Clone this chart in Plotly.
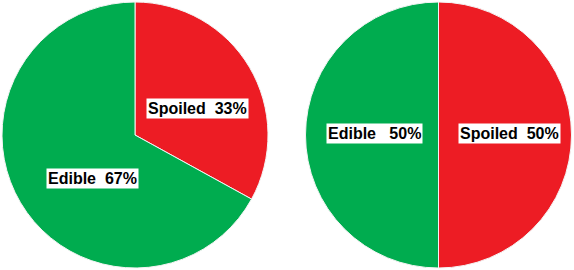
import plotly.graph_objects as go

W, H = 574, 270

# Shares of spoiled vs. edible food in the two scenarios
left_labels = ["Spoiled", "Edible"]
left_values = [33, 67]
right_labels = ["Spoiled", "Edible"]
right_values = [50, 50]

RED = "#ED1C24"
GREEN = "#00AC4F"
colors = [RED, GREEN]

fig = go.Figure()

fig.add_trace(go.Pie(
    labels=left_labels, values=left_values,
    sort=False, direction="clockwise", rotation=0,
    marker=dict(colors=colors, line=dict(color="#f4f4f4", width=1)),
    textinfo="none", hoverinfo="label+percent",
    domain=dict(x=[2 / W, 268 / W], y=[2 / H, 268 / H]),
    showlegend=False,
))
fig.add_trace(go.Pie(
    labels=right_labels, values=right_values,
    sort=False, direction="clockwise", rotation=0,
    marker=dict(colors=colors, line=dict(color="#f4f4f4", width=1)),
    textinfo="none", hoverinfo="label+percent",
    domain=dict(x=[305 / W, 572 / W], y=[2 / H, 268 / H]),
    showlegend=False,
))

# Boxed slice labels (pixel centres within the figure)
label_specs = [
    (left_labels[0], left_values[0], 197, 109, 1),
    (left_labels[1], left_values[1], 92, 178.5, 1),
    (right_labels[1], right_values[1], 374, 134, 2),
    (right_labels[0], right_values[0], 509, 134, 1),
]
for name, val, px, py, gap in label_specs:
    spaces = "&nbsp;" * (gap + 1)
    fig.add_annotation(
        text=f"<b>{name}{spaces}{val}%</b>",
        x=px / W, y=1 - py / H, xref="paper", yref="paper",
        xanchor="center", yanchor="middle", showarrow=False,
        font=dict(family="Liberation Sans, Arial, sans-serif", size=16, color="black"),
        bgcolor="white", borderpad=1,
    )

fig.update_layout(
    width=W, height=H,
    margin=dict(l=0, r=0, t=0, b=0),
    paper_bgcolor="white", plot_bgcolor="white",
)

fig.write_html("out.html")
